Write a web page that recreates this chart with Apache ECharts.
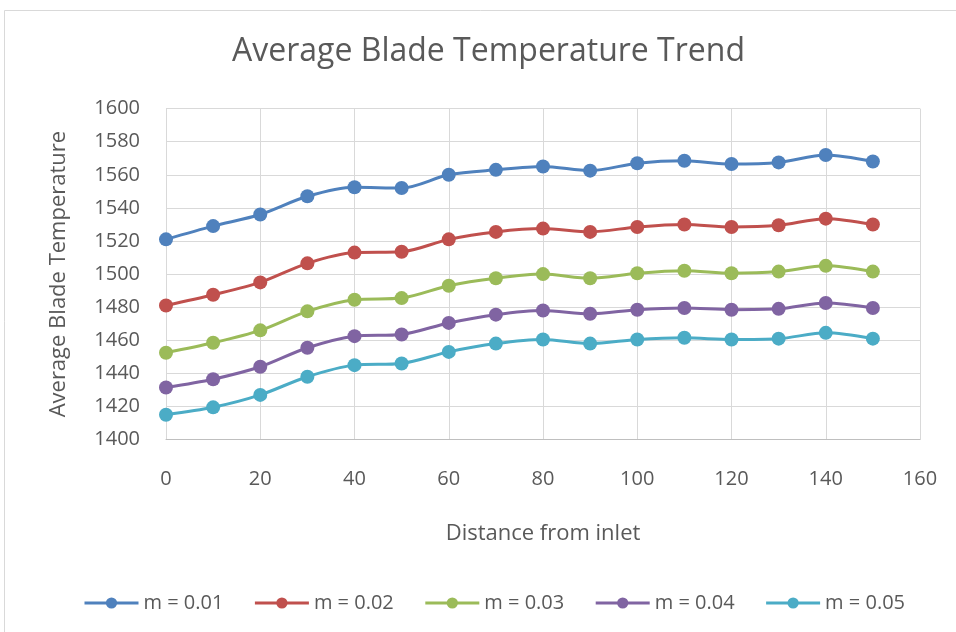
<!DOCTYPE html>
<html>
<head>
<meta charset="utf-8">
<script src="https://cdn.jsdelivr.net/npm/echarts@6/dist/echarts.min.js"></script>
<style>
html,body{margin:0;padding:0;background:#fff;}
#chart{width:956px;height:632px;}
</style>
</head>
<body>
<div id="chart"></div>
<script>
const distances = [0, 10, 20, 30, 40, 50, 60, 70, 80, 90, 100, 110, 120, 130, 140, 150];
const seriesNames = ["m = 0.01", "m = 0.02", "m = 0.03", "m = 0.04", "m = 0.05"];
const m001 = [1521, 1529, 1536, 1547, 1552.5, 1552, 1560, 1563, 1565, 1562.5, 1567, 1568.5, 1566.5, 1567.5, 1572, 1568];
const m002 = [1481, 1487.5, 1495, 1506.5, 1513, 1513.5, 1521, 1525.5, 1527.5, 1525.5, 1528.5, 1530, 1528.5, 1529.5, 1533.5, 1530];
const m003 = [1452.5, 1458.5, 1466, 1477.5, 1484.5, 1485.5, 1493, 1497.5, 1500, 1497.5, 1500.5, 1502, 1500.5, 1501.5, 1505, 1501.5];
const m004 = [1431.5, 1436.5, 1444, 1455.5, 1462.5, 1463.5, 1470.5, 1475.5, 1478, 1476, 1478.5, 1479.5, 1478.5, 1479, 1482.5, 1479.5];
const m005 = [1415, 1419.5, 1427, 1438, 1445, 1446, 1453, 1458, 1460.5, 1458, 1460.5, 1461.5, 1460.5, 1461, 1464.5, 1461];
const yTicks = [1400, 1420, 1440, 1460, 1480, 1500, 1520, 1540, 1560, 1580, 1600];
const xTicks = [0, 20, 40, 60, 80, 100, 120, 140, 160];
const colors = ["#4F81BD", "#C0504D", "#9BBB59", "#8064A2", "#4BACC6"];

const allValues = [m001, m002, m003, m004, m005];
const font = "'Open Sans', sans-serif";
const txt = "#595959";

const chart = echarts.init(document.getElementById('chart'), null, {renderer: 'canvas'});
chart.setOption({
  animation: false,
  backgroundColor: '#fff',
  color: colors,
  graphic: [{
    type: 'rect',
    shape: {x: 4.5, y: 10.5, width: 1000, height: 700},
    style: {fill: 'none', stroke: '#d9d9d9', lineWidth: 1},
    silent: true, z: -10
  }],
  title: {
    text: 'Average Blade Temperature Trend',
    left: 227,
    top: 31,
    textStyle: {fontFamily: font, fontSize: 32, fontWeight: 'normal', color: txt}
  },
  legend: {
    data: seriesNames,
    bottom: 14,
    left: 78,
    itemWidth: 54,
    itemHeight: 14,
    itemGap: 30,
    lineStyle: {width: 3},
    textStyle: {fontFamily: font, fontSize: 20, color: txt}
  },
  grid: {left: 166, right: 36, top: 108.6, bottom: 192.4, containLabel: false},
  xAxis: {
    type: 'value',
    min: xTicks[0], max: xTicks[xTicks.length - 1], interval: 20,
    name: 'Distance from inlet',
    nameLocation: 'middle',
    nameGap: 83,
    nameTextStyle: {fontFamily: font, fontSize: 22, color: txt},
    axisLine: {show: true, lineStyle: {color: '#bfbfbf', width: 1}},
    axisTick: {show: false},
    axisLabel: {fontFamily: font, fontSize: 20, color: txt, margin: 30},
    splitLine: {show: true, lineStyle: {color: '#d9d9d9', width: 1}}
  },
  yAxis: {
    type: 'value',
    min: yTicks[0], max: yTicks[yTicks.length - 1], interval: 20,
    name: 'Average Blade Temperature',
    nameLocation: 'middle',
    nameGap: 96,
    nameTextStyle: {fontFamily: font, fontSize: 22, color: txt},
    axisLine: {show: true, lineStyle: {color: '#d9d9d9', width: 1}},
    axisTick: {show: false},
    axisLabel: {fontFamily: font, fontSize: 20, color: txt, margin: 26, formatter: v => String(v)},
    splitLine: {show: true, lineStyle: {color: '#d9d9d9', width: 1}}
  },
  series: seriesNames.map((name, i) => ({
    name: name,
    type: 'line',
    smooth: 0.3,
    symbol: 'circle',
    symbolSize: 14,
    lineStyle: {width: 3, color: colors[i]},
    itemStyle: {color: colors[i]},
    data: distances.map((d, j) => [d, allValues[i][j]])
  }))
});
</script>
</body>
</html>
